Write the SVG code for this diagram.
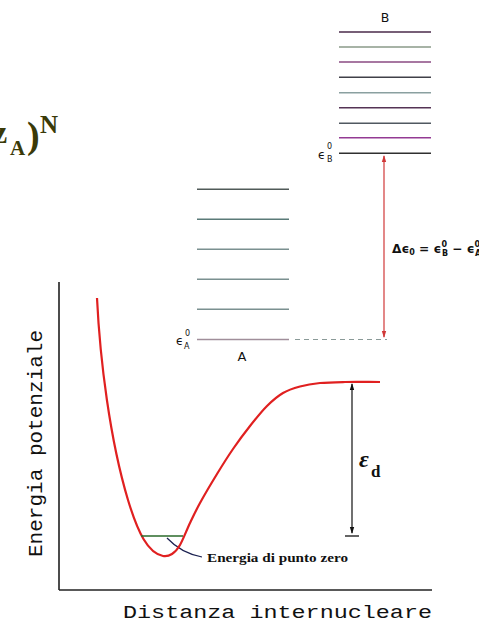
<svg xmlns="http://www.w3.org/2000/svg" width="479" height="623" viewBox="0 0 479 623">
<style>
.lvl{stroke-width:1.6;fill:none}
.sans{font-family:"DejaVu Sans","Liberation Sans",sans-serif;fill:#111}
.ser{font-family:"Liberation Serif","Times New Roman",serif;font-weight:bold}
.mono{font-family:"Liberation Mono","Courier New",monospace;fill:#111}
</style>
<defs>
<marker id="redHead" viewBox="0 0 8 8" refX="7" refY="4" markerWidth="6" markerHeight="6" orient="auto-start-reverse"><path d="M0,1.5 L8,4 L0,6.5 Z" fill="#d03838"/></marker>
<marker id="blkHead" viewBox="0 0 8 8" refX="7" refY="4" markerWidth="6" markerHeight="6" orient="auto-start-reverse"><path d="M0,1.5 L8,4 L0,6.5 Z" fill="#111"/></marker>
</defs>
<rect width="479" height="623" fill="#fff"/>

<g id="title-fragment" class="ser" fill="#3a3a08">
<text x="-7" y="143" font-size="32">z</text>
<text x="10" y="155" font-size="21">A</text>
<text x="27" y="148" font-size="38">)</text>
<text x="40" y="133" font-size="25">N</text>
</g>

<g id="levels-B">
<line class="lvl" x1="339" y1="32" x2="431" y2="32" stroke="#4a2a4a"/>
<line class="lvl" x1="339" y1="47" x2="431" y2="47" stroke="#8a9a88"/>
<line class="lvl" x1="339" y1="62" x2="431" y2="62" stroke="#8a4a82"/>
<line class="lvl" x1="339" y1="77.3" x2="431" y2="77.3" stroke="#404048"/>
<line class="lvl" x1="339" y1="92.7" x2="431" y2="92.7" stroke="#8aa0a0"/>
<line class="lvl" x1="339" y1="107.7" x2="431" y2="107.7" stroke="#553355"/>
<line class="lvl" x1="339" y1="123.3" x2="431" y2="123.3" stroke="#505860"/>
<line class="lvl" x1="339" y1="137.7" x2="431" y2="137.7" stroke="#933a93"/>
<line class="lvl" x1="339" y1="153.3" x2="431" y2="153.3" stroke="#303030"/>
<text class="sans" x="385" y="22" font-size="12.5" text-anchor="middle">B</text>
<text class="sans" x="318" y="159" font-size="12">ϵ</text>
<text class="sans" x="327" y="149" font-size="8">0</text>
<text class="sans" x="327" y="162" font-size="8">B</text>
</g>

<g id="levels-A">
<line class="lvl" x1="197" y1="189.3" x2="289" y2="189.3" stroke="#505a58"/>
<line class="lvl" x1="197" y1="219.3" x2="289" y2="219.3" stroke="#5a7a78"/>
<line class="lvl" x1="197" y1="249.3" x2="289" y2="249.3" stroke="#7a9090"/>
<line class="lvl" x1="197" y1="279.3" x2="289" y2="279.3" stroke="#7a9090"/>
<line class="lvl" x1="197" y1="309.3" x2="289" y2="309.3" stroke="#7a9090"/>
<line class="lvl" x1="197" y1="339.5" x2="289" y2="339.5" stroke="#a08e9a"/>
<text class="sans" x="242" y="361" font-size="13" text-anchor="middle">A</text>
<text class="sans" x="176" y="345" font-size="12">ϵ</text>
<text class="sans" x="185" y="336" font-size="8">0</text>
<text class="sans" x="184" y="349" font-size="8">A</text>
</g>

<g id="connectors">
<line x1="295" y1="339.5" x2="387" y2="339.5" stroke="#8a9a98" stroke-width="1.2" stroke-dasharray="5,4"/>
<line x1="384" y1="156" x2="384" y2="337" stroke="#d03838" stroke-width="1.2" marker-start="url(#redHead)" marker-end="url(#redHead)"/>
<line x1="352" y1="384" x2="352" y2="533" stroke="#111" stroke-width="1.2" marker-start="url(#blkHead)" marker-end="url(#blkHead)"/>
<line x1="345" y1="536" x2="359" y2="536" stroke="#111" stroke-width="1.3"/>
<path d="M167,538 Q181,553 202,557" fill="none" stroke="#1a2050" stroke-width="1.2"/>
</g>

<g id="delta-label">
<text class="sans" x="392" y="253" font-size="12.2" font-weight="bold">Δϵ<tspan font-size="8" dy="2">0</tspan><tspan dy="-2"> = ϵ</tspan><tspan font-size="8" dy="-6">0</tspan><tspan font-size="8" dx="-5.1" dy="9">B</tspan><tspan dy="-3"> − ϵ</tspan><tspan font-size="8" dy="-6">0</tspan><tspan font-size="8" dx="-5.1" dy="9">A</tspan></text>
</g>

<g id="axes">
<line x1="59" y1="282" x2="59" y2="590" stroke="#111" stroke-width="1.5"/>
<line x1="59" y1="590" x2="432" y2="590" stroke="#222" stroke-width="1.5"/>
<text class="mono" transform="translate(42,557) rotate(-90)" font-size="20" textLength="227" lengthAdjust="spacingAndGlyphs">Energia potenziale</text>
<text class="mono" x="123" y="618" font-size="19" textLength="309" lengthAdjust="spacingAndGlyphs">Distanza internucleare</text>
</g>

<g id="potential-curve">
<path d="M97,298 C100,360 110,440 128,500 C138,533 148,553 163,556 C166.7,556.7 169.2,555.8 172,554 C174.8,552.2 177,550.2 180,545 C183,539.8 186.7,530 190,523 C193.3,516 195.5,511.2 200,503 C204.5,494.8 211.5,483 217,474 C222.5,465 227.5,457 233,449 C238.5,441 244.3,433.2 250,426 C255.7,418.8 261.5,411.5 267,406 C272.5,400.5 277.5,396.25 283,393 C288.5,389.75 293.8,388.2 300,386.5 C306.2,384.8 312.5,383.75 320,383 C327.5,382.25 335,382.17 345,382 C355,381.83 369.2,382 380,382" fill="none" stroke="#e02020" stroke-width="2.2" stroke-linejoin="round"/>
<line x1="141" y1="536" x2="183" y2="536" stroke="#2a6a2a" stroke-width="1.5"/>
</g>

<g id="labels">
<text class="ser" x="207" y="562" font-size="13" fill="#111" textLength="141" lengthAdjust="spacingAndGlyphs">Energia di punto zero</text>
<text class="ser" x="359" y="467" font-size="24" font-style="italic" fill="#111">ε</text>
<text class="ser" x="371" y="477" font-size="17" font-weight="normal" fill="#111">d</text>
</g>
</svg>
